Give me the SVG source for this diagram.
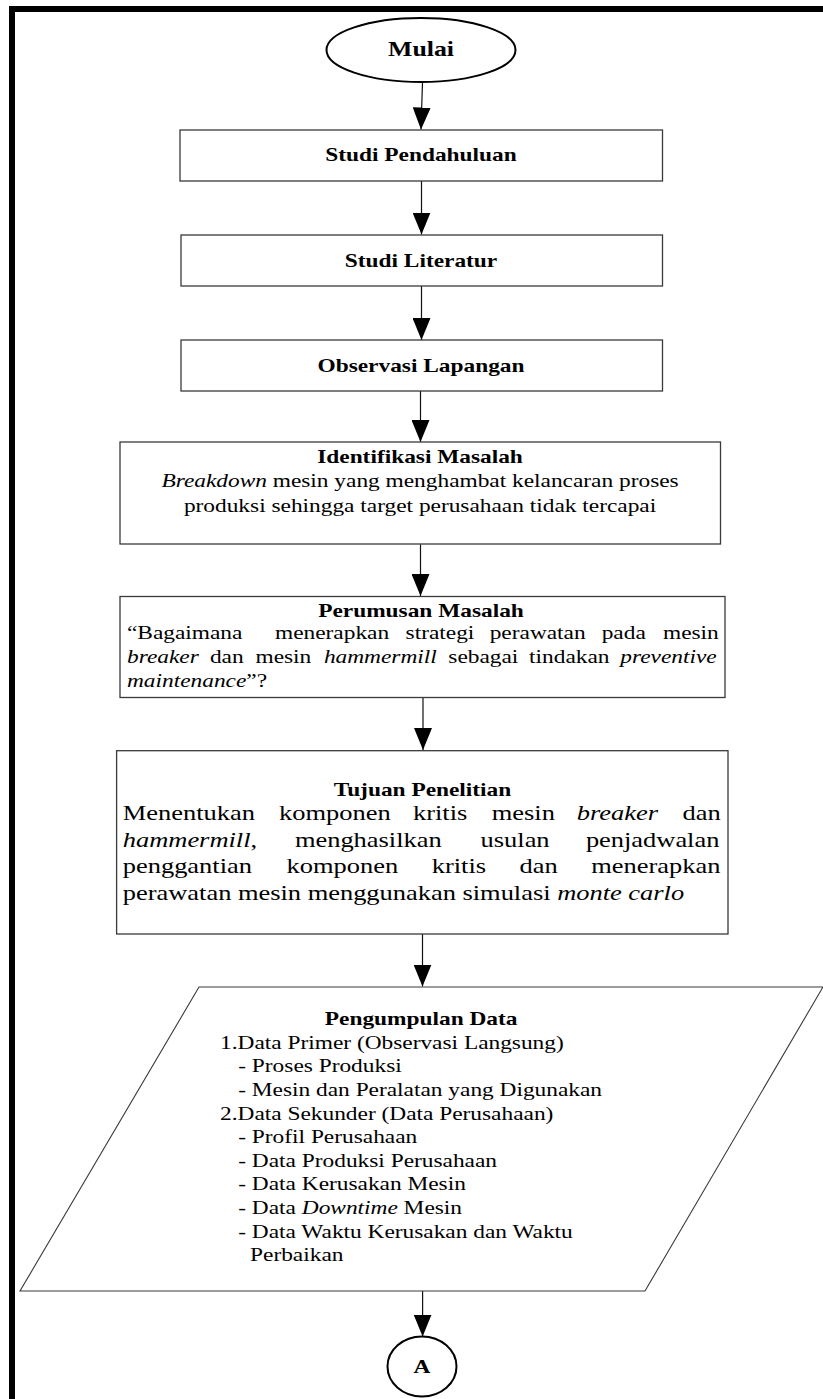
<svg xmlns="http://www.w3.org/2000/svg" width="823" height="1399" viewBox="0 0 823 1399">
<style>
.t{font-family:"Liberation Serif","Times New Roman",serif;font-size:19px;fill:#000}
.b{font-weight:bold}
.i{font-style:italic}
.c{text-anchor:middle}
.big{font-size:21.5px}
.box{fill:#fff;stroke:#3a3a3a;stroke-width:1.3}
.term{fill:#fff;stroke:#000;stroke-width:2}
.conn{stroke:#111;stroke-width:1.2;fill:none;marker-end:url(#ah)}
</style>
<defs>
<marker id="ah" markerUnits="userSpaceOnUse" markerWidth="22" markerHeight="18" viewBox="0 0 22 18" refX="22" refY="9" orient="auto">
<path d="M0,0 L22,9 L0,18 Z" fill="#000"/>
</marker>
</defs>
<rect width="823" height="1399" fill="#fff"/>
<path d="M12,1399 V9 H823" fill="none" stroke="#000" stroke-width="6"/>

<g id="connectors">
<path class="conn" d="M422.5,82 L421,129.5"/>
<path class="conn" d="M421.5,181 L421.5,234.5"/>
<path class="conn" d="M421.5,286 L421.5,340"/>
<path class="conn" d="M420.5,391 L420.5,442"/>
<path class="conn" d="M420.5,544.3 L420.5,596"/>
<path class="conn" d="M423,698 L423,750"/>
<path class="conn" d="M422.5,934 L422.5,986.5"/>
<path class="conn" d="M422.6,1291 L422.6,1336.5"/>
</g>

<g id="mulai">
<ellipse class="term" cx="421" cy="50" rx="94.5" ry="32"/>
<g transform="scale(1.23 1)"><text class="t b c" style="font-size:21px" x="342.28" y="56">Mulai</text></g>
</g>

<g id="studi-pendahuluan">
<rect class="box" x="180" y="130" width="482.5" height="51"/>
<g transform="scale(1.23 1)"><text class="t b c" x="342.28" y="160.7">Studi Pendahuluan</text></g>
</g>

<g id="studi-literatur">
<rect class="box" x="181" y="235" width="481.5" height="51"/>
<g transform="scale(1.23 1)"><text class="t b c" x="342.28" y="266.7">Studi Literatur</text></g>
</g>

<g id="observasi-lapangan">
<rect class="box" x="181" y="340" width="481.5" height="51"/>
<g transform="scale(1.23 1)"><text class="t b c" x="342.28" y="371.7">Observasi Lapangan</text></g>
</g>

<g id="identifikasi-masalah">
<rect class="box" x="120" y="442" width="600.5" height="102"/>
<g transform="scale(1.23 1)">
<text class="t b c" x="341.5" y="463.3">Identifikasi Masalah</text>
<text class="t c" x="341.5" y="487.3"><tspan class="i">Breakdown</tspan> mesin yang menghambat kelancaran proses</text>
<text class="t c" x="341.5" y="511.7">produksi sehingga target perusahaan tidak tercapai</text>
</g>
</g>

<g id="perumusan-masalah">
<rect class="box" x="120" y="596.5" width="605" height="101"/>
<g transform="scale(1.23 1)">
<text class="t b c" x="342.28" y="617.3">Perumusan Masalah</text>
<text class="t" y="639.3"><tspan x="103.25">“Bagaimana</tspan><tspan x="223.58">menerapkan</tspan><tspan x="329.76">strategi</tspan><tspan x="398.13">perawatan</tspan><tspan x="489.19">pada</tspan><tspan x="539.02">mesin</tspan></text>
<text class="t" y="663.3"><tspan class="i" x="103.25">breaker</tspan><tspan x="170.65">dan</tspan><tspan x="207.72">mesin</tspan><tspan class="i" x="263.33">hammermill</tspan><tspan x="364.47">sebagai</tspan><tspan x="430.16">tindakan</tspan><tspan class="i" x="504.31">preventive</tspan></text>
<text class="t" x="103.25" y="687.3"><tspan class="i">maintenance</tspan>”?</text>
</g>
</g>

<g id="tujuan-penelitian">
<rect class="box" x="116.6" y="750.7" width="611.4" height="183.3"/>
<g transform="scale(1.23 1)">
<text class="t b c" x="343.5" y="796">Tujuan Penelitian</text>
<text class="t big" y="820"><tspan x="99.84">Menentukan</tspan><tspan x="226.91">komponen</tspan><tspan x="335.77">kritis</tspan><tspan x="399.84">mesin</tspan><tspan class="i" x="468.94">breaker</tspan><tspan x="554.88">dan</tspan></text>
<text class="t big" y="846.7"><tspan x="99.84"><tspan class="i">hammermill</tspan>,</tspan><tspan x="239.76">menghasilkan</tspan><tspan x="390.73">usulan</tspan><tspan x="476.34">penjadwalan</tspan></text>
<text class="t big" y="873.3"><tspan x="99.84">penggantian</tspan><tspan x="233.01">komponen</tspan><tspan x="350.98">kritis</tspan><tspan x="422.44">dan</tspan><tspan x="480.73">menerapkan</tspan></text>
<text class="t big" x="99.84" y="900">perawatan mesin menggunakan simulasi <tspan class="i">monte carlo</tspan></text>
</g>
</g>

<g id="pengumpulan-data">
<polygon class="box" points="199,987 823,987 645,1291 20,1291" style="stroke-width:1.1"/>
<g transform="scale(1.23 1)">
<text class="t b c" x="342.4" y="1025">Pengumpulan Data</text>
<text class="t" x="178.9" y="1048.6">1.Data Primer (Observasi Langsung)</text>
<text class="t" x="193.7" y="1072.3">- Proses Produksi</text>
<text class="t" x="193.7" y="1096">- Mesin dan Peralatan yang Digunakan</text>
<text class="t" x="178.9" y="1119.6">2.Data Sekunder (Data Perusahaan)</text>
<text class="t" x="193.7" y="1143.2">- Profil Perusahaan</text>
<text class="t" x="193.7" y="1166.9">- Data Produksi Perusahaan</text>
<text class="t" x="193.7" y="1190.5">- Data Kerusakan Mesin</text>
<text class="t" x="193.7" y="1214.2">- Data <tspan class="i">Downtime</tspan> Mesin</text>
<text class="t" x="193.7" y="1237.8">- Data Waktu Kerusakan dan Waktu</text>
<text class="t" x="203.3" y="1261.5">Perbaikan</text>
</g>
</g>

<g id="connector-a">
<ellipse class="term" cx="422" cy="1366.5" rx="34.5" ry="30"/>
<g transform="scale(1.23 1)"><text class="t b c" x="343.1" y="1373">A</text></g>
</g>
</svg>
